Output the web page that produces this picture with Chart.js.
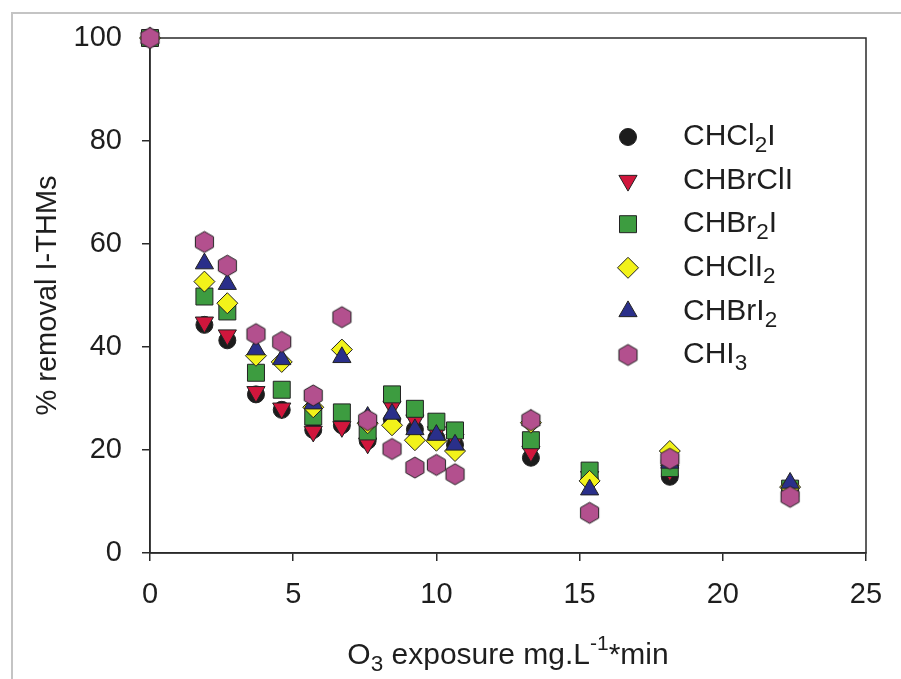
<!DOCTYPE html>
<html>
<head>
<meta charset="utf-8">
<script src="https://cdn.jsdelivr.net/npm/chart.js@4.4.1/dist/chart.umd.min.js"></script>
<style>
  body { margin: 0; background: #fff; }
  #wrap { width: 901px; height: 679px; }
</style>
</head>
<body>
<div id="wrap"><canvas id="thmChart" width="901" height="679"></canvas></div>
<script>
// O3 exposure (mg.L-1*min)
const exposure = [0, 1.9, 2.7, 3.7, 4.6, 5.7, 6.7, 7.6, 8.45, 9.25, 10, 10.65, 13.3, 15.35, 18.15, 22.35];

// % removal per I-THM
const CHCl2I  = [100, 44.3, 41.3, 30.8, 27.8, 23.9, 24.8, 21.8, 25.8, 24.0, 22.3, 21.0, 18.5, 14.3, 14.8, 12.3];
const CHBrClI = [100, 44.8, 42.3, 31.3, 28.1, 23.6, 24.5, 21.3, 28.5, 25.8, 23.5, 22.0, 19.7, 14.8, 16.0, 12.0];
const CHBr2I  = [100, 49.8, 46.9, 35.0, 31.7, 26.5, 27.3, 23.6, 30.8, 28.0, 25.5, 23.8, 21.9, 16.0, 16.5, 12.5];
const CHClI2  = [100, 52.7, 48.5, 38.3, 37.1, 28.3, 39.5, 25.2, 24.8, 21.9, 21.8, 19.8, 25.3, 14.0, 19.8, 12.8];
const CHBrI2  = [100, 56.2, 52.2, 39.5, 37.6, 29.0, 38.0, 26.4, 27.0, 24.0, 22.9, 21.0, 25.8, 12.3, 17.5, 13.6];
const CHI3    = [100, 60.4, 55.8, 42.5, 41.0, 30.6, 45.8, 25.8, 20.2, 16.6, 17.1, 15.3, 25.8, 7.8, 18.3, 10.9];

const xTicks = [0, 5, 10, 15, 20, 25];
const yTicks = [0, 20, 40, 60, 80, 100];

// legend names, split for subscripts
const legendNames = [
  [{ t: 'CHCl' }, { t: '2', sub: true }, { t: 'I' }],
  [{ t: 'CHBrClI' }],
  [{ t: 'CHBr' }, { t: '2', sub: true }, { t: 'I' }],
  [{ t: 'CHClI' }, { t: '2', sub: true }],
  [{ t: 'CHBrI' }, { t: '2', sub: true }],
  [{ t: 'CHI' }, { t: '3', sub: true }]
];

const FONT = '"Liberation Sans", Arial, sans-serif';

// hexagon marker for CHI3
function makeHexagon(r, fill) {
  const c = document.createElement('canvas');
  const s = Math.ceil(r * 2 + 4);
  c.width = s; c.height = s;
  const g = c.getContext('2d');
  g.beginPath();
  for (let i = 0; i < 6; i++) {
    const a = Math.PI / 2 + i * Math.PI / 3;
    const px = s / 2 + Math.cos(a) * r;
    const py = s / 2 - Math.sin(a) * r;
    if (i === 0) g.moveTo(px, py); else g.lineTo(px, py);
  }
  g.closePath();
  g.fillStyle = fill;
  g.fill();
  g.lineWidth = 1;
  g.strokeStyle = '#222';
  g.stroke();
  return c;
}
const hexImg = makeHexagon(10.5, '#b3508e');

function pts(ys) {
  return ys.map((y, i) => ({ x: exposure[i], y: y }));
}

const seriesStyle = [
  { label: 'CHCl2I',  data: CHCl2I,  style: 'circle',   radius: 8.5,  color: '#1c1c1c', rot: 0,   order: 6 },
  { label: 'CHBrClI', data: CHBrClI, style: 'triangle', radius: 10.5, color: '#d0163c', rot: 180, order: 5 },
  { label: 'CHBr2I',  data: CHBr2I,  style: 'rect',     radius: 12,   color: '#3d9c40', rot: 0,   order: 4 },
  { label: 'CHClI2',  data: CHClI2,  style: 'rectRot',  radius: 10.5, color: '#f2f21a', rot: 0,   order: 3 },
  { label: 'CHBrI2',  data: CHBrI2,  style: 'triangle', radius: 10.5, color: '#2a2f8a', rot: 0,   order: 2 },
  { label: 'CHI3',    data: CHI3,    style: hexImg,     radius: 10.5, color: '#b3508e', rot: 0,   order: 1 }
];

function drawRich(ctx, parts, x, y, size) {
  let cx = x;
  parts.forEach(p => {
    let fs = size, dy = 0;
    if (p.sub) { fs = size * 0.75; dy = size * 0.3; }
    if (p.sup) { fs = size * 0.7; dy = -size * 0.4; }
    ctx.font = fs + 'px ' + FONT;
    ctx.fillText(p.t, cx, y + dy);
    cx += ctx.measureText(p.t).width;
  });
  return cx - x;
}
function richWidth(ctx, parts, size) {
  let w = 0;
  parts.forEach(p => {
    const fs = p.sub ? size * 0.75 : (p.sup ? size * 0.7 : size);
    ctx.font = fs + 'px ' + FONT;
    w += ctx.measureText(p.t).width;
  });
  return w;
}

const decorPlugin = {
  id: 'decor',
  beforeDraw(chart) {
    const ctx = chart.ctx;
    ctx.save();
    ctx.fillStyle = '#fff';
    ctx.fillRect(0, 0, chart.width, chart.height);
    // outer frame of the scanned figure
    ctx.strokeStyle = '#c4c4c4';
    ctx.lineWidth = 2;
    ctx.beginPath();
    ctx.moveTo(12, chart.height);
    ctx.lineTo(12, 13);
    ctx.lineTo(chart.width, 13);
    ctx.stroke();
    ctx.restore();
  },
  beforeDatasetsDraw(chart) {
    const { ctx, chartArea: a } = chart;
    ctx.save();
    ctx.strokeStyle = '#2a2a2a';
    ctx.lineWidth = 1.5;
    ctx.strokeRect(a.left, a.top, a.right - a.left, a.bottom - a.top);
    ctx.restore();
  },
  afterDraw(chart) {
    const { ctx, chartArea: a } = chart;
    ctx.save();
    ctx.fillStyle = '#1e1e1e';
    ctx.textBaseline = 'middle';
    ctx.textAlign = 'left';

    // legend
    const lx = 628, tx = 683, ly0 = 137, dy = 43.6;
    legendNames.forEach((parts, i) => {
      const s = seriesStyle[i];
      const y = ly0 + i * dy;
      if (s.style === hexImg) {
        ctx.drawImage(hexImg, lx - hexImg.width / 2, y - hexImg.height / 2);
      } else {
        ctx.fillStyle = s.color;
        ctx.strokeStyle = '#222';
        ctx.lineWidth = 1;
        Chart.helpers.drawPoint(ctx, { pointStyle: s.style, radius: s.radius, rotation: s.rot, borderWidth: 1 }, lx, y);
      }
      ctx.fillStyle = '#1e1e1e';
      drawRich(ctx, parts, tx, y, 30);
    });

    // y axis title
    const yTitle = [{ t: '% removal I-THMs' }];
    ctx.save();
    ctx.translate(48, (a.top + a.bottom) / 2);
    ctx.rotate(-Math.PI / 2);
    const yw = richWidth(ctx, yTitle, 29);
    drawRich(ctx, yTitle, -yw / 2, 0, 29);
    ctx.restore();

    // x axis title
    const xTitle = [{ t: 'O' }, { t: '3', sub: true }, { t: ' exposure mg.L' }, { t: '-1', sup: true }, { t: '*min' }];
    const xw = richWidth(ctx, xTitle, 30);
    drawRich(ctx, xTitle, (a.left + a.right) / 2 - xw / 2, 656, 30);
    ctx.restore();
  }
};

const ctx = document.getElementById('thmChart').getContext('2d');
const chart = new Chart(ctx, {
  type: 'scatter',
  data: {
    datasets: seriesStyle.map(s => ({
      label: s.label,
      data: pts(s.data),
      pointStyle: s.style,
      pointRadius: s.radius,
      pointRotation: s.rot,
      backgroundColor: s.color,
      borderColor: '#222',
      borderWidth: 1,
      order: s.order,
      clip: false
    }))
  },
  options: {
    responsive: false,
    animation: false,
    layout: { padding: { left: 0, right: 35, top: 38, bottom: 0 } },
    plugins: { legend: { display: false }, tooltip: { enabled: false } },
    scales: {
      x: {
        type: 'linear', min: 0, max: 25,
        afterFit: s => { s.height = 126; },
        afterBuildTicks: s => { s.ticks = xTicks.map(v => ({ value: v })); },
        ticks: { color: '#1e1e1e', font: { size: 29, family: FONT }, padding: 17 },
        grid: { drawOnChartArea: false, tickLength: 8, color: '#2a2a2a', lineWidth: 1.5 },
        border: { color: '#2a2a2a', width: 1.5 }
      },
      y: {
        min: 0, max: 100,
        afterFit: s => { s.width = 150; },
        afterBuildTicks: s => { s.ticks = yTicks.map(v => ({ value: v })); },
        ticks: { color: '#1e1e1e', font: { size: 29, family: FONT }, padding: 20 },
        grid: { drawOnChartArea: false, tickLength: 8, color: '#2a2a2a', lineWidth: 1.5 },
        border: { color: '#2a2a2a', width: 1.5 }
      }
    }
  },
  plugins: [decorPlugin]
});
</script>
</body>
</html>
